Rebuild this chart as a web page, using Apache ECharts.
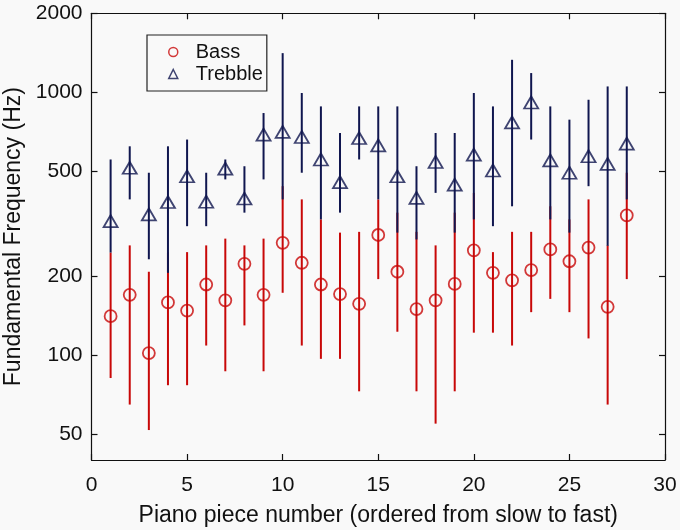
<!DOCTYPE html>
<html>
<head>
<meta charset="utf-8">
<script src="https://cdn.jsdelivr.net/npm/echarts@6/dist/echarts.min.js"></script>
<style>
html,body{margin:0;padding:0;background:#f9f9f9;}
#chart{width:680px;height:530px;}
</style>
</head>
<body>
<div id="chart"></div>
<script>
const pieces = [1,2,3,4,5,6,7,8,9,10,11,12,13,14,15,16,17,18,19,20,21,22,23,24,25,26,27,28];
const bass   = [141,170,102,159,148,186,162,223,170,268,225,186,171,157,287,208,150,162,187,251,206,193,211,253,228,257,153,341];
const bassHi = [246,262,208,247,247,262,278,262,278,440,392,329,293,295,392,349,295,262,349,415,247,295,295,369,329,392,262,495];
const bassLo = [82,65,52,77,77,109,87,130,87,173,109,97,97,73,195,123,73,55,73,122,122,109,146,164,146,116,65,195];
const treble   = [324,517,344,383,480,384,513,395,691,708,677,556,456,671,629,480,397,544,446,580,505,769,916,552,495,572,535,639];
const trebleHi = [556,624,495,624,662,495,556,524,835,1411,995,885,701,885,885,885,524,701,701,995,885,1331,1185,885,788,938,1054,1054];
const trebleLo = [246,392,232,206,310,310,467,349,467,392,495,329,349,556,392,293,276,415,293,329,310,369,662,329,293,440,261,392];
const yTicks = [50,100,200,500,1000,2000];

const RED = '#c80808';
const NAVY = '#10164f';
const FONT = 'Liberation Sans, Arial, Helvetica, sans-serif';

function errSeries(name, lo, hi, color, z){
  return {
    type:'custom', name:name, silent:true, z:z,
    renderItem:function(params, api){
      const x = api.value(0);
      const p1 = api.coord([x, api.value(1)]);
      const p2 = api.coord([x, api.value(2)]);
      return {type:'line', shape:{x1:p1[0],y1:p1[1],x2:p2[0],y2:p2[1]},
              style:{stroke:color, lineWidth:2}};
    },
    encode:{x:0, y:[1,2]},
    data: pieces.map((p,i)=>[p, lo[i], hi[i]])
  };
}

const chart = echarts.init(document.getElementById('chart'));
const axisLineStyle = {color:'#111', width:1.2};
chart.setOption({
  backgroundColor:'#f9f9f9',
  animation:false,
  grid:{left:91.5, right:15, top:13.3, bottom:70, containLabel:false, outerBoundsMode:'none'},
  legend:{
    orient:'vertical', left:147, top:35,
    padding:[7,4,7,21], itemGap:2,
    itemWidth:9, itemHeight:9,
    borderColor:'#222', borderWidth:1.2,
    backgroundColor:'#f9f9f9',
    textStyle:{fontFamily:FONT, fontSize:20, color:'#111', lineHeight:20, padding:[0,0,0,13]},
    data:[
      {name:'Bass', icon:'circle', itemStyle:{color:'rgba(0,0,0,0)', borderColor:RED, borderWidth:1.5}},
      {name:'Trebble', icon:'triangle', itemStyle:{color:'rgba(0,0,0,0)', borderColor:NAVY, borderWidth:1.5}}
    ]
  },
  xAxis:[{
    type:'value', min:0, max:30, interval:5, position:'bottom',
    axisLine:{show:true, onZero:false, lineStyle:axisLineStyle},
    axisTick:{show:true, inside:true, length:6, lineStyle:axisLineStyle},
    axisLabel:{fontFamily:FONT, fontSize:21, color:'#111', margin:15},
    splitLine:{show:false},
    name:'Piano piece number (ordered from slow to fast)',
    nameLocation:'middle', nameGap:44,
    nameTextStyle:{fontFamily:FONT, fontSize:23, color:'#111'}
  },{
    type:'value', min:0, max:30, interval:5, position:'top',
    axisLine:{show:true, onZero:false, lineStyle:axisLineStyle},
    axisTick:{show:true, inside:true, length:6, lineStyle:axisLineStyle},
    axisLabel:{show:false}, splitLine:{show:false}
  }],
  yAxis:[{
    type:'log', logBase:10, min:40, max:2000, position:'left',
    axisLine:{show:true, onZero:false, lineStyle:axisLineStyle},
    axisTick:{show:true, inside:true, length:6, lineStyle:axisLineStyle, customValues:yTicks},
    axisLabel:{fontFamily:FONT, fontSize:21, color:'#111', margin:9, customValues:yTicks,
               formatter:function(v){return String(Math.round(v));}},
    splitLine:{show:false}, minorTick:{show:false},
    name:'Fundamental Frequency (Hz)',
    nameLocation:'middle', nameGap:54,
    nameTextStyle:{fontFamily:FONT, fontSize:23, color:'#111'}
  },{
    type:'log', logBase:10, min:40, max:2000, position:'right',
    axisLine:{show:true, onZero:false, lineStyle:axisLineStyle},
    axisTick:{show:true, inside:true, length:6, lineStyle:axisLineStyle, customValues:yTicks},
    axisLabel:{show:false}, splitLine:{show:false}
  }],
  series:[
    errSeries('bassErr', bassLo, bassHi, RED, 1),
    {type:'scatter', name:'Bass', z:2, symbol:'circle', symbolSize:12,
     itemStyle:{color:'rgba(0,0,0,0)', borderColor:RED, borderWidth:1.8},
     data: pieces.map((p,i)=>[p,bass[i]])},
    errSeries('trebleErr', trebleLo, trebleHi, NAVY, 3),
    {type:'scatter', name:'Trebble', z:4, symbol:'triangle', symbolSize:[14,12],
     itemStyle:{color:'rgba(0,0,0,0)', borderColor:NAVY, borderWidth:1.8},
     data: pieces.map((p,i)=>[p,treble[i]])}
  ]
});
</script>
</body>
</html>
